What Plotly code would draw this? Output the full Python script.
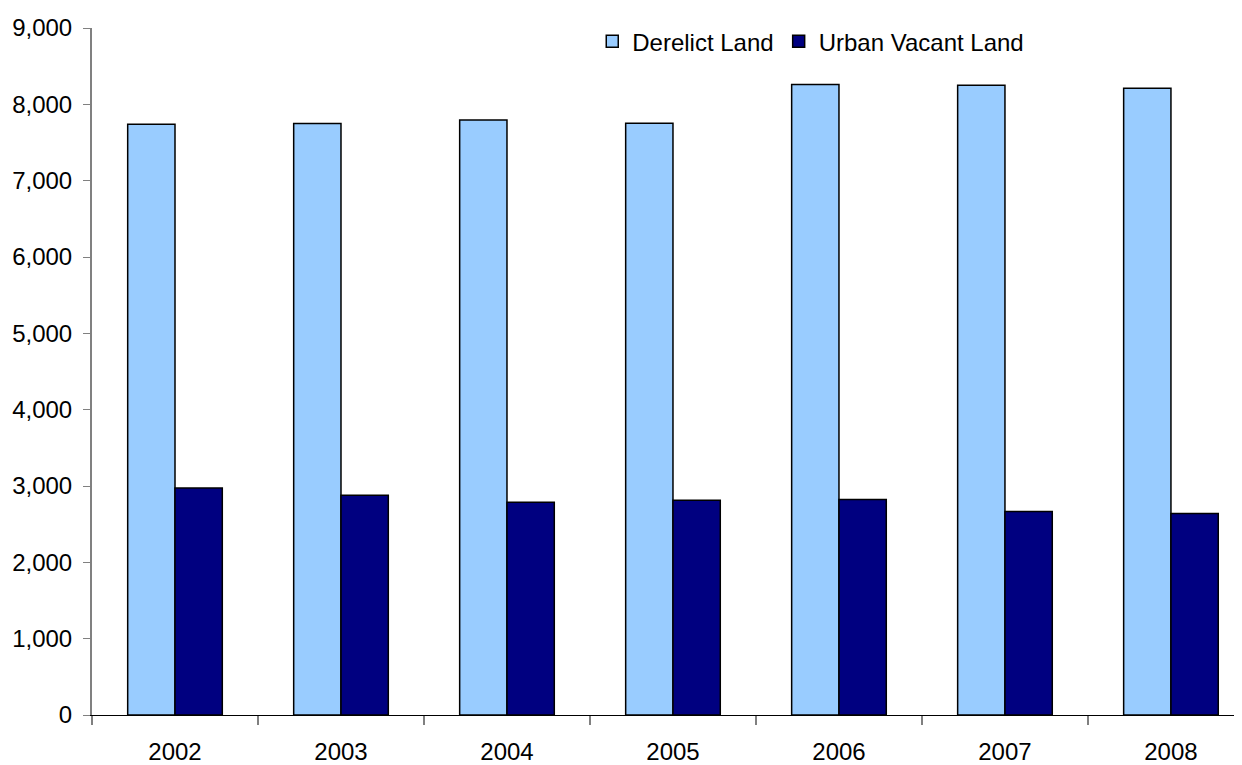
import plotly.graph_objects as go

years = ["2002", "2003", "2004", "2005", "2006", "2007", "2008"]
derelict = [7740, 7750, 7795, 7752, 8260, 8250, 8212]
urban_vacant = [2974, 2878, 2787, 2813, 2822, 2665, 2639]

fig = go.Figure()
fig.add_trace(go.Bar(name="Derelict Land", x=years, y=derelict,
                     marker=dict(color="#99CCFF", line=dict(color="#000000", width=1.5))))
fig.add_trace(go.Bar(name="Urban Vacant Land", x=years, y=urban_vacant,
                     marker=dict(color="#000080", line=dict(color="#000000", width=1.5))))

fig.update_layout(
    width=1234, height=757,
    margin=dict(l=84, r=0, t=20, b=44),
    paper_bgcolor="white", plot_bgcolor="white",
    barmode="group", bargap=0.43, bargroupgap=0,
    font=dict(family="Liberation Sans, Arial, sans-serif", size=24, color="black"),
    showlegend=True,
    legend=dict(orientation="h", x=0.435, y=0.98, xanchor="left", yanchor="middle",
                font=dict(size=24), bgcolor="rgba(0,0,0,0)", itemwidth=30,
                tracegroupgap=0, traceorder="normal"),
)
fig.update_xaxes(
    type="category", range=[-0.5, 6.428],
    showline=True, linecolor="#000000", linewidth=1,
    ticks="outside", tickson="boundaries", ticklen=9, tickcolor="#808080", tickwidth=2,
    ticklabelstandoff=15, showgrid=False,
)
fig.update_yaxes(
    range=[0, 9000], dtick=1000, tickformat=",d",
    showline=True, linecolor="#808080", linewidth=2,
    ticks="outside", ticklen=7, tickcolor="#808080", tickwidth=1,
    ticklabelstandoff=6, showgrid=False, zeroline=False,
)

fig.write_html("out.html")
